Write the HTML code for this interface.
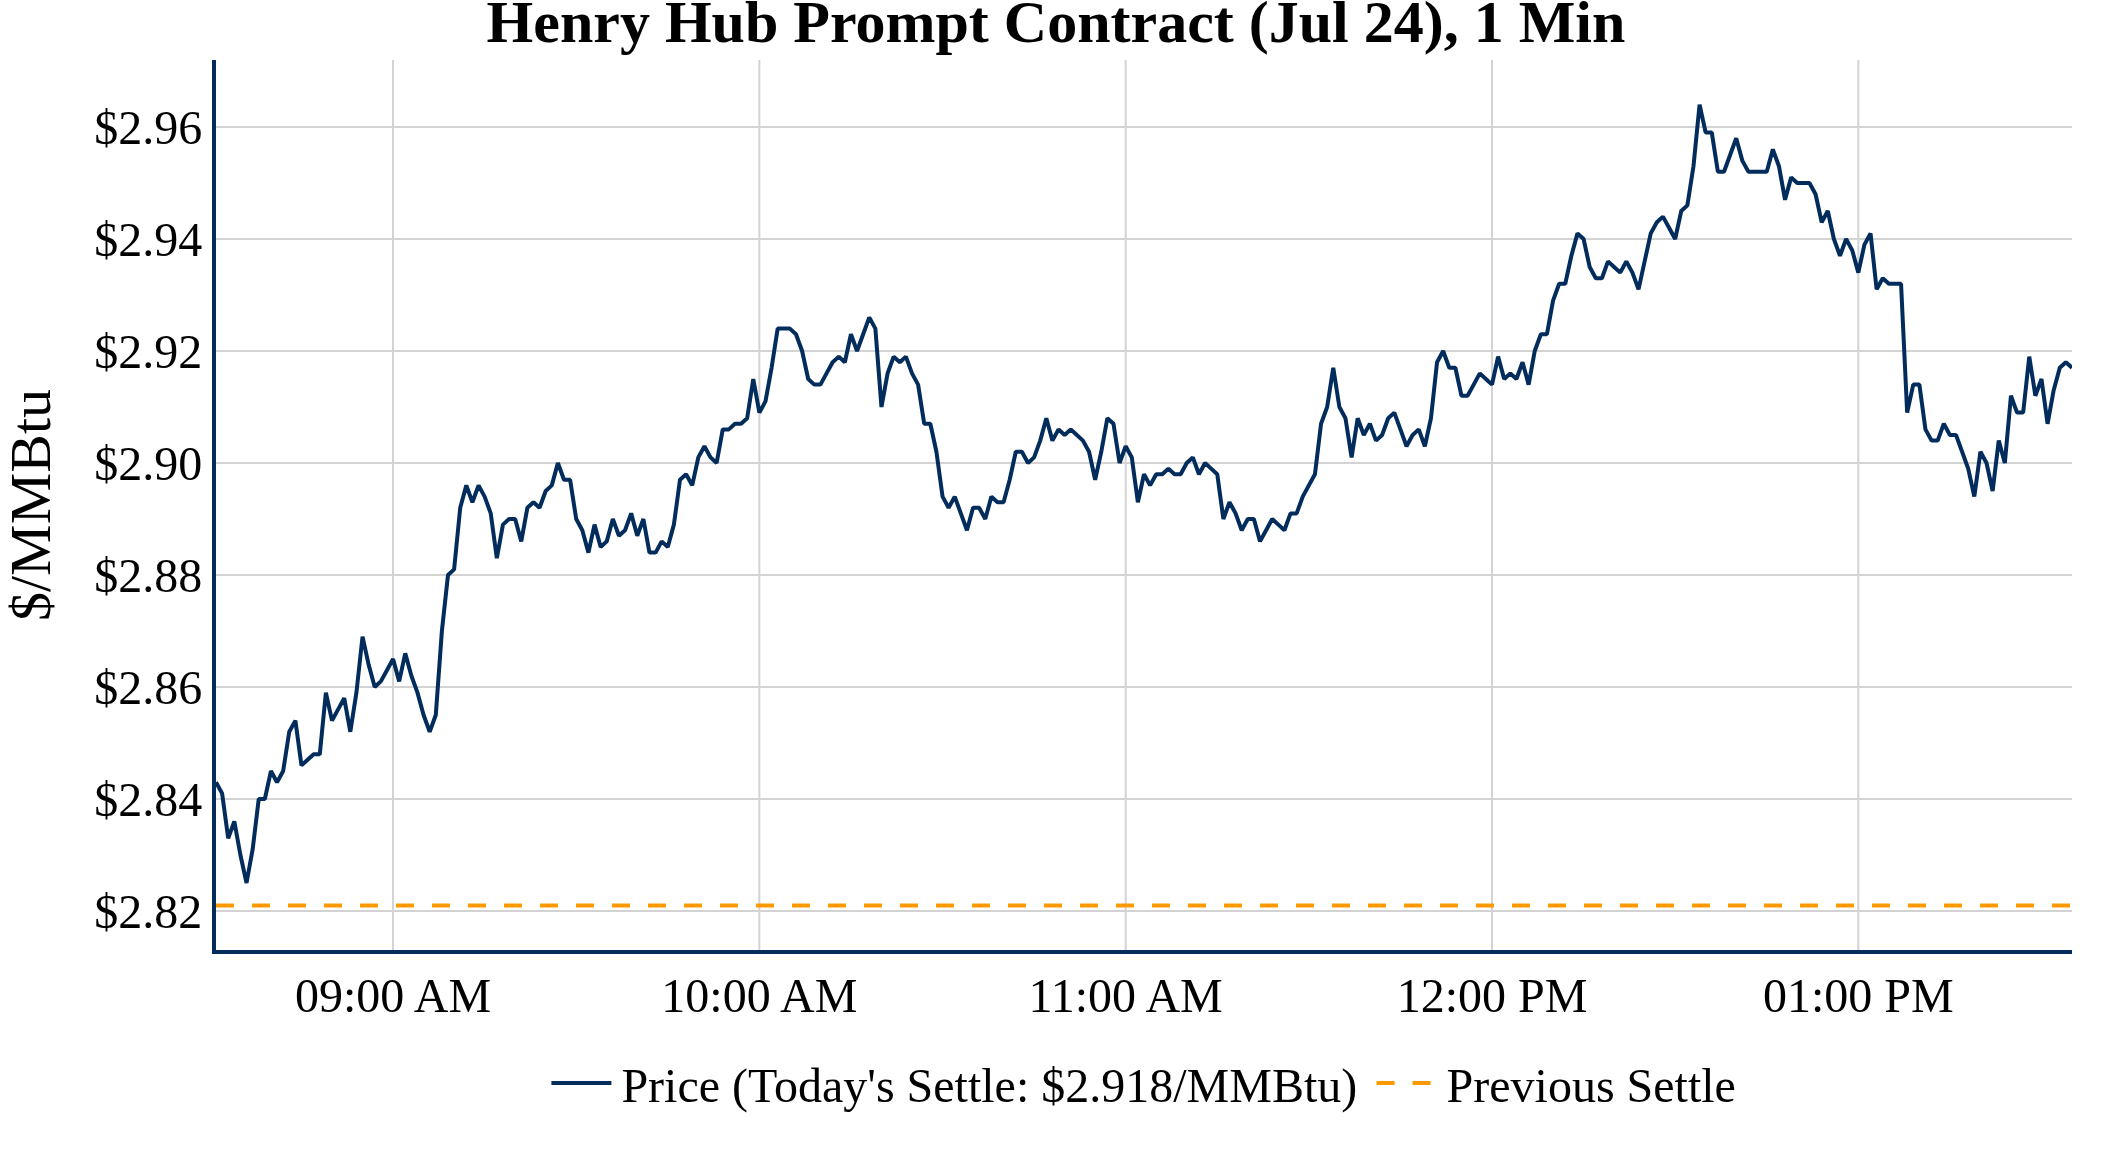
<!DOCTYPE html>
<html><head><meta charset="utf-8"><style>
html,body{margin:0;padding:0;background:#fff;width:2112px;height:1152px;overflow:hidden}
svg{display:block;will-change:transform}
text{font-family:"Liberation Serif",serif;fill:#000}
</style></head><body>
<svg width="2112" height="1152" viewBox="0 0 2112 1152">
<rect width="2112" height="1152" fill="#fff"/>
<g stroke="#d3d3d3" stroke-width="2"><line x1="216" y1="911.00" x2="2072" y2="911.00"/><line x1="216" y1="799.00" x2="2072" y2="799.00"/><line x1="216" y1="687.00" x2="2072" y2="687.00"/><line x1="216" y1="575.00" x2="2072" y2="575.00"/><line x1="216" y1="463.00" x2="2072" y2="463.00"/><line x1="216" y1="351.00" x2="2072" y2="351.00"/><line x1="216" y1="239.00" x2="2072" y2="239.00"/><line x1="216" y1="127.00" x2="2072" y2="127.00"/><line x1="393.05" y1="60" x2="393.05" y2="950"/><line x1="759.37" y1="60" x2="759.37" y2="950"/><line x1="1125.68" y1="60" x2="1125.68" y2="950"/><line x1="1492.00" y1="60" x2="1492.00" y2="950"/><line x1="1858.32" y1="60" x2="1858.32" y2="950"/></g>
<line x1="216.0" y1="905.5" x2="2072.0" y2="905.5" stroke="#ff9900" stroke-width="4" stroke-dasharray="18 18"/>
<defs><clipPath id="c"><rect x="216.0" y="60.0" width="1856.0" height="890.0"/></clipPath></defs><path clip-path="url(#c)" d="M216.00,782.20 L222.11,793.40 L228.21,838.20 L234.32,821.40 L240.42,855.00 L246.53,883.00 L252.63,849.40 L258.74,799.00 L264.84,799.00 L270.95,771.00 L277.05,782.20 L283.16,771.00 L289.26,731.80 L295.37,720.60 L301.47,765.40 L307.58,759.80 L313.68,754.20 L319.79,754.20 L325.89,692.60 L332.00,720.60 L338.11,709.40 L344.21,698.20 L350.32,731.80 L356.42,692.60 L362.53,636.60 L368.63,664.60 L374.74,687.00 L380.84,681.40 L386.95,670.20 L393.05,659.00 L399.16,681.40 L405.26,653.40 L411.37,675.80 L417.47,692.60 L423.58,715.00 L429.68,731.80 L435.79,715.00 L441.89,631.00 L448.00,575.00 L454.11,569.40 L460.21,507.80 L466.32,485.40 L472.42,502.20 L478.53,485.40 L484.63,496.60 L490.74,513.40 L496.84,558.20 L502.95,524.60 L509.05,519.00 L515.16,519.00 L521.26,541.40 L527.37,507.80 L533.47,502.20 L539.58,507.80 L545.68,491.00 L551.79,485.40 L557.89,463.00 L564.00,479.80 L570.11,479.80 L576.21,519.00 L582.32,530.20 L588.42,552.60 L594.53,524.60 L600.63,547.00 L606.74,541.40 L612.84,519.00 L618.95,535.80 L625.05,530.20 L631.16,513.40 L637.26,535.80 L643.37,519.00 L649.47,552.60 L655.58,552.60 L661.68,541.40 L667.79,547.00 L673.89,524.60 L680.00,479.80 L686.11,474.20 L692.21,485.40 L698.32,457.40 L704.42,446.20 L710.53,457.40 L716.63,463.00 L722.74,429.40 L728.84,429.40 L734.95,423.80 L741.05,423.80 L747.16,418.20 L753.26,379.00 L759.37,412.60 L765.47,401.40 L771.58,367.80 L777.68,328.60 L783.79,328.60 L789.89,328.60 L796.00,334.20 L802.11,351.00 L808.21,379.00 L814.32,384.60 L820.42,384.60 L826.53,373.40 L832.63,362.20 L838.74,356.60 L844.84,362.20 L850.95,334.20 L857.05,351.00 L863.16,334.20 L869.26,317.40 L875.37,328.60 L881.47,407.00 L887.58,373.40 L893.68,356.60 L899.79,362.20 L905.89,356.60 L912.00,373.40 L918.11,384.60 L924.21,423.80 L930.32,423.80 L936.42,451.80 L942.53,496.60 L948.63,507.80 L954.74,496.60 L960.84,513.40 L966.95,530.20 L973.05,507.80 L979.16,507.80 L985.26,519.00 L991.37,496.60 L997.47,502.20 L1003.58,502.20 L1009.68,479.80 L1015.79,451.80 L1021.89,451.80 L1028.00,463.00 L1034.11,457.40 L1040.21,440.60 L1046.32,418.20 L1052.42,440.60 L1058.53,429.40 L1064.63,435.00 L1070.74,429.40 L1076.84,435.00 L1082.95,440.60 L1089.05,451.80 L1095.16,479.80 L1101.26,451.80 L1107.37,418.20 L1113.47,423.80 L1119.58,463.00 L1125.68,446.20 L1131.79,457.40 L1137.89,502.20 L1144.00,474.20 L1150.11,485.40 L1156.21,474.20 L1162.32,474.20 L1168.42,468.60 L1174.53,474.20 L1180.63,474.20 L1186.74,463.00 L1192.84,457.40 L1198.95,474.20 L1205.05,463.00 L1211.16,468.60 L1217.26,474.20 L1223.37,519.00 L1229.47,502.20 L1235.58,513.40 L1241.68,530.20 L1247.79,519.00 L1253.89,519.00 L1260.00,541.40 L1266.11,530.20 L1272.21,519.00 L1278.32,524.60 L1284.42,530.20 L1290.53,513.40 L1296.63,513.40 L1302.74,496.60 L1308.84,485.40 L1314.95,474.20 L1321.05,423.80 L1327.16,407.00 L1333.26,367.80 L1339.37,407.00 L1345.47,418.20 L1351.58,457.40 L1357.68,418.20 L1363.79,435.00 L1369.89,423.80 L1376.00,440.60 L1382.11,435.00 L1388.21,418.20 L1394.32,412.60 L1400.42,429.40 L1406.53,446.20 L1412.63,435.00 L1418.74,429.40 L1424.84,446.20 L1430.95,418.20 L1437.05,362.20 L1443.16,351.00 L1449.26,367.80 L1455.37,367.80 L1461.47,395.80 L1467.58,395.80 L1473.68,384.60 L1479.79,373.40 L1485.89,379.00 L1492.00,384.60 L1498.11,356.60 L1504.21,379.00 L1510.32,373.40 L1516.42,379.00 L1522.53,362.20 L1528.63,384.60 L1534.74,351.00 L1540.84,334.20 L1546.95,334.20 L1553.05,300.60 L1559.16,283.80 L1565.26,283.80 L1571.37,255.80 L1577.47,233.40 L1583.58,239.00 L1589.68,267.00 L1595.79,278.20 L1601.89,278.20 L1608.00,261.40 L1614.11,267.00 L1620.21,272.60 L1626.32,261.40 L1632.42,272.60 L1638.53,289.40 L1644.63,261.40 L1650.74,233.40 L1656.84,222.20 L1662.95,216.60 L1669.05,227.80 L1675.16,239.00 L1681.26,211.00 L1687.37,205.40 L1693.47,166.20 L1699.58,104.60 L1705.68,132.60 L1711.79,132.60 L1717.89,171.80 L1724.00,171.80 L1730.11,155.00 L1736.21,138.20 L1742.32,160.60 L1748.42,171.80 L1754.53,171.80 L1760.63,171.80 L1766.74,171.80 L1772.84,149.40 L1778.95,166.20 L1785.05,199.80 L1791.16,177.40 L1797.26,183.00 L1803.37,183.00 L1809.47,183.00 L1815.58,194.20 L1821.68,222.20 L1827.79,211.00 L1833.89,239.00 L1840.00,255.80 L1846.11,239.00 L1852.21,250.20 L1858.32,272.60 L1864.42,244.60 L1870.53,233.40 L1876.63,289.40 L1882.74,278.20 L1888.84,283.80 L1894.95,283.80 L1901.05,283.80 L1907.16,412.60 L1913.26,384.60 L1919.37,384.60 L1925.47,429.40 L1931.58,440.60 L1937.68,440.60 L1943.79,423.80 L1949.89,435.00 L1956.00,435.00 L1962.11,451.80 L1968.21,468.60 L1974.32,496.60 L1980.42,451.80 L1986.53,463.00 L1992.63,491.00 L1998.74,440.60 L2004.84,463.00 L2010.95,395.80 L2017.05,412.60 L2023.16,412.60 L2029.26,356.60 L2035.37,395.80 L2041.47,379.00 L2047.58,423.80 L2053.68,390.20 L2059.79,367.80 L2065.89,362.20 L2072.00,367.80" fill="none" stroke="#022c5c" stroke-width="4" stroke-linejoin="bevel"/>
<line x1="214" y1="60.0" x2="214" y2="954" stroke="#022c5c" stroke-width="4"/>
<line x1="212" y1="952" x2="2072.0" y2="952" stroke="#022c5c" stroke-width="4"/>
<g font-size="48"><text x="202.2" y="927.75" text-anchor="end">$2.82</text><text x="202.2" y="815.75" text-anchor="end">$2.84</text><text x="202.2" y="703.75" text-anchor="end">$2.86</text><text x="202.2" y="591.75" text-anchor="end">$2.88</text><text x="202.2" y="479.75" text-anchor="end">$2.90</text><text x="202.2" y="367.75" text-anchor="end">$2.92</text><text x="202.2" y="255.75" text-anchor="end">$2.94</text><text x="202.2" y="143.75" text-anchor="end">$2.96</text></g>
<g font-size="48"><text x="393.05" y="1011.7" text-anchor="middle">09:00 AM</text><text x="759.37" y="1011.7" text-anchor="middle">10:00 AM</text><text x="1125.68" y="1011.7" text-anchor="middle">11:00 AM</text><text x="1492.00" y="1011.7" text-anchor="middle">12:00 PM</text><text x="1858.32" y="1011.7" text-anchor="middle">01:00 PM</text></g>
<text transform="translate(50.4,505) rotate(-90)" text-anchor="middle" font-size="58">$/MMBtu</text>
<text x="1056" y="42.3" text-anchor="middle" font-size="60" font-weight="bold">Henry Hub Prompt Contract (Jul 24), 1 Min</text>
<line x1="551.4" y1="1083" x2="611.4" y2="1083" stroke="#022c5c" stroke-width="4"/><text x="621.4" y="1102" font-size="48">Price (Today&#39;s Settle: $2.918/MMBtu)</text><line x1="1376.6" y1="1083" x2="1436.6" y2="1083" stroke="#ff9900" stroke-width="4" stroke-dasharray="18 18"/><text x="1446.6" y="1102" font-size="48">Previous Settle</text>
</svg></body></html>
